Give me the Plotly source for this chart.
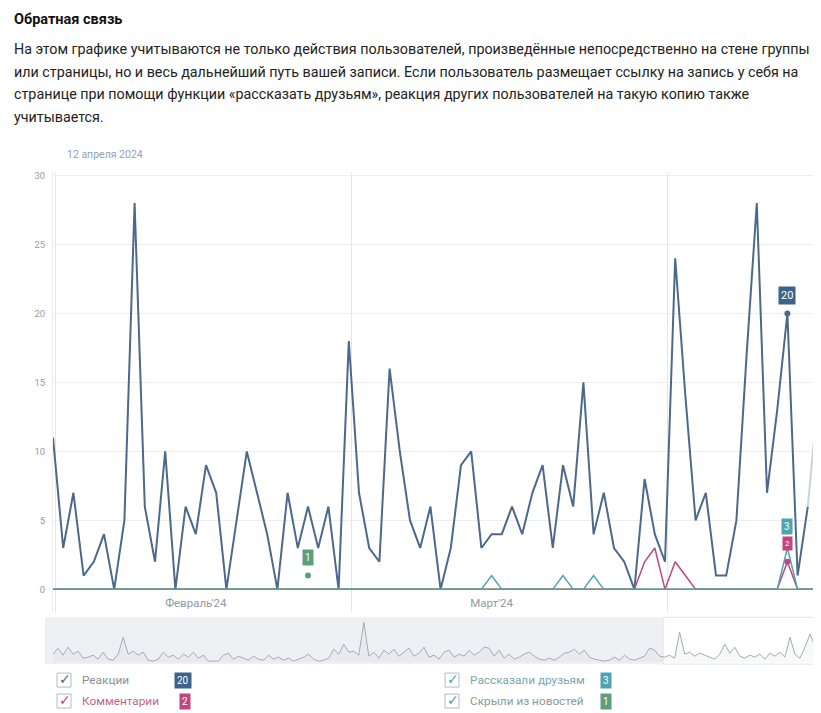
import plotly.graph_objects as go
import pandas as pd

# the page body has an 8px margin, so the figure is drawn 8px in from the window corner
OX, OY = 8, 8
W, H = 813, 705

# ---------------- data ----------------
days = pd.date_range("2024-02-01", periods=76, freq="D")

reactions = [11, 3, 7, 1, 2, 4, 0, 5, 28, 6, 2, 10, 0, 6, 4, 9, 7, 0, 5, 10,
             7, 4, 0, 7, 3, 6, 3, 6, 0, 18, 7, 3, 2, 16, 10, 5, 3, 6, 0, 3,
             9, 10, 3, 4, 4, 6, 4, 7, 9, 3, 9, 6, 15, 4, 7, 3, 2, 0, 8, 4,
             2, 24, 14, 5, 7, 1, 1, 5, 17, 28, 7, 13, 20, 1, 6, 14]
comments = [0, 0, 0, 0, 0, 0, 0, 0, 0, 0, 0, 0, 0, 0, 0, 0, 0, 0, 0, 0,
            0, 0, 0, 0, 0, 0, 0, 0, 0, 0, 0, 0, 0, 0, 0, 0, 0, 0, 0, 0,
            0, 0, 0, 0, 0, 0, 0, 0, 0, 0, 0, 0, 0, 0, 0, 0, 0, 0, 2, 3,
            0, 2, 1, 0, 0, 0, 0, 0, 0, 0, 0, 0, 2, 0, 0, 0]
shared = [0, 0, 0, 0, 0, 0, 0, 0, 0, 0, 0, 0, 0, 0, 0, 0, 0, 0, 0, 0,
          0, 0, 0, 0, 0, 0, 0, 0, 0, 0, 0, 0, 0, 0, 0, 0, 0, 0, 0, 0,
          0, 0, 0, 1, 0, 0, 0, 0, 0, 0, 1, 0, 0, 1, 0, 0, 0, 0, 0, 0,
          0, 0, 0, 0, 0, 0, 0, 0, 0, 0, 0, 0, 3, 0, 0, 0]
hidden = [0, 0, 0, 0, 0, 0, 0, 0, 0, 0, 0, 0, 0, 0, 0, 0, 0, 0, 0, 0,
          0, 0, 0, 0, 0, 0, 0, 0, 0, 0, 0, 0, 0, 0, 0, 0, 0, 0, 0, 0,
          0, 0, 0, 0, 0, 0, 0, 0, 0, 0, 0, 0, 0, 0, 0, 0, 0, 0, 0, 0,
          0, 0, 0, 0, 0, 0, 0, 0, 0, 0, 0, 0, 0, 0, 0, 0]

tooltip_day = 72          # hovered day for reactions / comments / shared
hidden_point_day = 25     # highlighted point of "Скрыли из новостей"
hidden_point_value = 1

month_tick_dates = ["2024-02-15", "2024-03-15"]
month_tick_labels = ["Февраль'24", "Март'24"]
y_ticks = [0, 5, 10, 15, 20, 25, 30]

series_names = ["Реакции", "Комментарии", "Рассказали друзьям", "Скрыли из новостей"]
legend_totals = ["20", "2", "3", "1"]

# navigator (overview) line
nav_values = [8, 14, 7, 15, 8, 11, 4, 5, 7, 3, 10, 3, 2, 8, 25, 8, 11, 7, 10, 2,
              1, 3, 10, 5, 7, 3, 8, 5, 10, 4, 7, 1, 1, 1, 7, 9, 3, 6, 4, 2,
              6, 3, 2, 7, 3, 5, 2, 4, 1, 3, 5, 8, 3, 1, 2, 4, 13, 8, 18, 10,
              11, 7, 40, 6, 10, 4, 12, 8, 13, 6, 10, 14, 6, 9, 15, 5, 7, 3, 10, 12,
              5, 8, 6, 12, 7, 10, 15, 14, 6, 12, 4, 8, 3, 5, 8, 10, 6, 3, 2, 4,
              2, 5, 9, 10, 13, 8, 12, 5, 3, 2, 1, 2, 5, 2, 7, 3, 2, 4, 6, 14,
              12, 6, 5, 7, 4, 30, 8, 10, 6, 9, 7, 5, 3, 8, 18, 9, 15, 6, 4, 7,
              5, 8, 3, 9, 6, 10, 5, 25, 8, 4, 15, 28, 16]
nav_index = list(range(len(nav_values)))

# ---------------- styling ----------------
C_REACT = "#4b6a8b"
C_REACT_FADE = "#c9d4e0"
C_COMM = "#c2457f"
C_SHARE = "#4ea4b3"
C_HIDE = "#5c9f7c"
C_BADGE_REACT = "#3c6389"


def px(p):
    return (p - OX) / W


def py(p):
    return 1 - (p - OY) / H


# main plot pixel geometry (window pixels): value 0 at 589 px, 30 at 174 px
PLOT_TOP, PLOT_BOT = 170, 612
PPU = (589 - 174) / 30.0
y_lo = -(PLOT_BOT - 589) / PPU
y_hi = (589 - PLOT_TOP) / PPU

fig = go.Figure()

fig.add_trace(go.Scatter(x=days[:75], y=reactions[:75], mode="lines",
                         line=dict(color=C_REACT, width=2), hoverinfo="skip"))
fig.add_trace(go.Scatter(x=days[74:76], y=reactions[74:76], mode="lines",
                         line=dict(color=C_REACT_FADE, width=2), hoverinfo="skip"))
fig.add_trace(go.Scatter(x=days, y=comments, mode="lines",
                         line=dict(color=C_COMM, width=1.5), hoverinfo="skip"))
fig.add_trace(go.Scatter(x=days, y=shared, mode="lines",
                         line=dict(color=C_SHARE, width=1.5), hoverinfo="skip"))
fig.add_trace(go.Scatter(x=days, y=hidden, mode="lines",
                         line=dict(color=C_HIDE, width=1.5), hoverinfo="skip"))

# hover dots
fig.add_trace(go.Scatter(x=[days[tooltip_day], days[tooltip_day], days[hidden_point_day]],
                         y=[reactions[tooltip_day], comments[tooltip_day], hidden_point_value],
                         mode="markers",
                         marker=dict(color=[C_REACT, C_COMM, C_HIDE], size=6),
                         hoverinfo="skip"))

# navigator
fig.add_trace(go.Scatter(x=nav_index, y=nav_values, mode="lines", xaxis="x2", yaxis="y2",
                         line=dict(color="#a3abb4", width=1), fill="tozeroy",
                         fillcolor="rgba(160,170,180,0.08)", hoverinfo="skip"))

shapes = []
annotations = []

# navigator background + window
shapes.append(dict(type="rect", xref="paper", yref="paper", x0=px(45), x1=px(663),
                   y0=py(664), y1=py(617), fillcolor="#eef0f3", line=dict(width=0), layer="below"))
shapes.append(dict(type="rect", xref="paper", yref="paper", x0=px(663), x1=px(817),
                   y0=py(664), y1=py(617), fillcolor="#ffffff",
                   line=dict(color="#dfe3e8", width=1), layer="below"))

# heading and paragraph
annotations.append(dict(text="<b>Обратная связь</b>", x=px(12), y=py(18), xref="paper", yref="paper",
                        xanchor="left", yanchor="middle", showarrow=False,
                        font=dict(size=14.5, color="#111111")))
para = ["На этом графике учитываются не только действия пользователей, произведённые непосредственно на стене группы",
        "или страницы, но и весь дальнейший путь вашей записи. Если пользователь размещает ссылку на запись у себя на",
        "странице при помощи функции «рассказать друзьям», реакция других пользователей на такую копию также",
        "учитывается."]
for i, line in enumerate(para):
    annotations.append(dict(text=line, x=px(12), y=py(47 + 22.7 * i), xref="paper", yref="paper",
                            xanchor="left", yanchor="middle", showarrow=False,
                            font=dict(size=14.3, color="#222222")))

annotations.append(dict(text="12 апреля 2024", x=px(65), y=py(153), xref="paper", yref="paper",
                        xanchor="left", yanchor="middle", showarrow=False,
                        font=dict(size=10.5, color="#8ea2b7")))

# tooltip badges
def badge(xv, yv, text, color, yshift, xref="x", yref="y", size=11):
    return dict(text=text, x=xv, y=yv, xref=xref, yref=yref, showarrow=False,
                yshift=yshift, bgcolor=color, font=dict(size=size, color="white"),
                borderpad=2, xanchor="center", yanchor="middle")

annotations.append(badge(days[tooltip_day], reactions[tooltip_day], legend_totals[0], C_BADGE_REACT, 18))
annotations.append(badge(days[tooltip_day], comments[tooltip_day], legend_totals[2], C_SHARE, 35, size=10))
annotations.append(badge(days[tooltip_day], comments[tooltip_day], legend_totals[1], C_COMM, 18, size=8))
annotations.append(badge(days[hidden_point_day], hidden_point_value, legend_totals[3], C_HIDE, 18, size=10))

# custom legend
legend_pos = [(57, 680), (57, 701), (445, 680), (445, 701)]
legend_check = [C_REACT, C_COMM, C_SHARE, C_HIDE]
legend_text_col = ["#8a8f95", "#c0628a", "#7aa7ad", "#8a9a93"]
badge_x = [183, 185, 606, 606]
badge_col = [C_BADGE_REACT, C_COMM, C_SHARE, C_HIDE]
for k in range(4):
    bx, by = legend_pos[k]
    shapes.append(dict(type="rect", xref="paper", yref="paper", x0=px(bx), x1=px(bx + 14),
                       y0=py(by + 7), y1=py(by - 7), line=dict(color="#b4bcc5", width=1),
                       fillcolor="white"))
    annotations.append(dict(text="✓", x=px(bx + 8), y=py(by - 1), xref="paper", yref="paper",
                            showarrow=False, xanchor="center", yanchor="middle",
                            font=dict(size=14, color=legend_check[k], family="DejaVu Sans")))
    annotations.append(dict(text=series_names[k], x=px(bx + 23), y=py(by), xref="paper", yref="paper",
                            showarrow=False, xanchor="left", yanchor="middle",
                            font=dict(size=11.8, color=legend_text_col[k])))
    annotations.append(badge(px(badge_x[k]), py(by), legend_totals[k], badge_col[k], 0,
                             xref="paper", yref="paper", size=10))

fig.update_layout(
    width=W, height=H,
    margin=dict(l=0, r=0, t=0, b=0),
    paper_bgcolor="white", plot_bgcolor="white",
    showlegend=False,
    font=dict(family="Roboto", color="#333"),
    shapes=shapes, annotations=annotations,
    xaxis=dict(domain=[px(53), px(818)], type="date",
               range=[days[0], days[75]],
               tickvals=month_tick_dates, ticktext=month_tick_labels,
               ticklabelposition="inside", ticks="", showgrid=False,
               tickfont=dict(size=11.5, color="#8d99a6"),
               showline=False, zeroline=False,
               minor=dict(dtick="M1", tick0="2024-02-01T07:00", showgrid=True,
                          gridcolor="#e3e6ea", gridwidth=1, ticks="")),
    yaxis=dict(domain=[py(PLOT_BOT), py(PLOT_TOP)], range=[y_lo, y_hi],
               tickvals=y_ticks, ticks="", showgrid=True, gridcolor="#eceef0",
               zeroline=False, showline=True, linecolor="#eceef0",
               tickfont=dict(size=9.5, color="#9a9a9a"), ticklabelstandoff=5),
    xaxis2=dict(domain=[px(53), px(815)], range=[0, len(nav_values) - 1], anchor="y2",
                visible=False),
    yaxis2=dict(domain=[py(662), py(620)], range=[0, 42], anchor="x2", visible=False),
)

fig.write_html("out.html")
